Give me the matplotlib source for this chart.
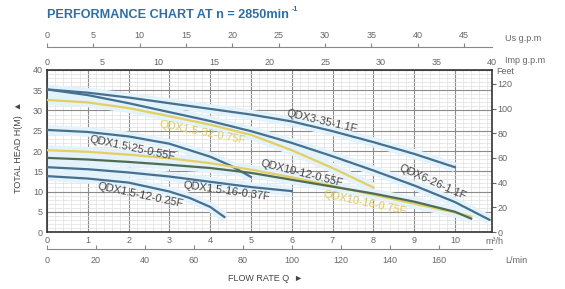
import numpy as np
import matplotlib.pyplot as plt

plt.rcParams['font.family'] = ['Liberation Sans', 'DejaVu Sans']

# pump curves: flow in m3/h, head in m
q_3_35 = [0, 1, 2, 3, 4, 5, 6, 7, 8, 9, 10]
h_3_35 = [35.2, 34.4, 33.2, 31.8, 30.4, 29.0, 27.3, 24.9, 22.2, 19.3, 16.0]

q_6_26 = [0, 1, 2, 3, 4, 5, 6, 7, 8, 9, 10, 10.85]
h_6_26 = [35.2, 33.8, 31.8, 29.6, 27.4, 24.9, 22.0, 18.7, 15.2, 11.5, 7.4, 3.0]

q_15_32 = [0, 1, 2, 3, 4, 5, 6, 7, 8]
h_15_32 = [32.6, 32.0, 30.6, 28.6, 26.5, 24.0, 20.2, 15.8, 11.0]

q_15_25 = [0, 1, 2, 3, 4, 4.5, 5]
h_15_25 = [25.2, 24.7, 23.6, 21.8, 18.6, 16.4, 13.6]

q_10_16 = [0, 1, 2, 3, 4, 5, 6, 7, 8, 9, 10, 10.4]
h_10_16 = [20.2, 19.8, 19.1, 18.2, 17.0, 15.4, 13.5, 11.4, 9.2, 7.0, 4.8, 3.8]

q_10_12 = [0, 1, 2, 3, 4, 5, 6, 7, 8, 9, 10, 10.4]
h_10_12 = [18.3, 17.9, 17.3, 16.6, 15.8, 14.6, 12.9, 11.2, 9.5, 7.5, 5.0, 3.3]

q_15_16 = [0, 1, 2, 3, 4, 5, 6]
h_15_16 = [16.0, 15.5, 14.7, 13.7, 12.4, 11.1, 10.1]

q_15_12 = [0, 1, 2, 3, 3.5, 4, 4.35]
h_15_12 = [13.8, 13.2, 12.2, 10.0, 8.4, 6.2, 3.7]

curves = [
    (q_3_35, h_3_35, '#45708f'),
    (q_6_26, h_6_26, '#45708f'),
    (q_15_32, h_15_32, '#e3cf62'),
    (q_15_25, h_15_25, '#45708f'),
    (q_10_16, h_10_16, '#e3cf62'),
    (q_10_12, h_10_12, '#506c55'),
    (q_15_16, h_15_16, '#45708f'),
    (q_15_12, h_15_12, '#45708f'),
]

# label text, position (m3/h, m), rotation, colour
labels = [
    ("QDX3-35-1.1F", 6.75, 27.3, -13, '#444444'),
    ("QDX6-26-1.1F", 9.45, 12.4, -24, '#444444'),
    ("QDX1.5-32-0.75F", 3.8, 24.6, -11, '#e0c95a'),
    ("QDX1.5-25-0.55F", 2.1, 20.7, -12, '#444444'),
    ("QDX10-12-0.55F", 6.25, 14.6, -14, '#444444'),
    ("QDX10-16-0.75F", 7.8, 7.2, -12, '#e0c95a'),
    ("QDX1.5-16-0.37F", 4.4, 10.2, -8, '#444444'),
    ("QDX1.5-12-0.25F", 2.3, 9.1, -12, '#444444'),
]

fig = plt.figure(figsize=(5.65, 2.89), dpi=100)
ax = fig.add_axes([0.0832, 0.1972, 0.7876, 0.5606])

qmax = 40 * 4.54609 * 60 / 1000  # 40 imp gpm in m3/h
ax.set_xlim(0, qmax)
ax.set_ylim(0, 40)

ax.set_xticks(np.arange(0, 11, 1))
ax.set_xticks(np.arange(0, qmax, 0.2), minor=True)
ax.set_yticks(np.arange(0, 41, 5))
ax.set_yticks(np.arange(0, 41, 1), minor=True)
ax.grid(which='major', color='#8a8a8a', linewidth=0.8)
ax.grid(which='minor', color='#e0e0e0', linewidth=0.5)
ax.set_axisbelow(True)
ax.tick_params(which='both', length=0, labelsize=6.5, labelcolor='#666666', pad=3)
for s in ax.spines.values():
    s.set_color('#333333')
    s.set_linewidth(1.2)

for q, h, c in curves:
    ax.plot(q, h, color='#e3f2fb', linewidth=7, solid_capstyle='butt', zorder=2)
for q, h, c in curves:
    ax.plot(q, h, color=c, linewidth=1.6, zorder=3)

for txt, x, y, rot, c in labels:
    ax.text(x, y, txt, rotation=rot, color=c, fontsize=8, ha='center', va='center',
            rotation_mode='anchor', zorder=4)

# right axis in feet
ft = ax.secondary_yaxis('right', functions=(lambda m: m * 3.28084, lambda f: f / 3.28084))
ft.set_yticks(np.arange(0, 121, 20))
ft.tick_params(labelsize=6.5, labelcolor='#666666', color='#666666', length=3, pad=1)
ft.spines['right'].set_visible(False)

# top axis imp gpm
imp = ax.secondary_xaxis('top', functions=(lambda q: q * 1000 / 60 / 4.54609,
                                           lambda g: g * 4.54609 * 60 / 1000))
imp.set_xticks(np.arange(0, 41, 5))
imp.tick_params(labelsize=6.5, labelcolor='#666666', length=0, pad=2)
imp.spines['top'].set_visible(False)

# us gpm axis above
us = ax.secondary_xaxis(1.142, functions=(lambda q: q * 1000 / 60 / 3.78541,
                                          lambda g: g * 3.78541 * 60 / 1000))
us.set_xticks(np.arange(0, 46, 5))
us.tick_params(labelsize=6.5, labelcolor='#666666', color='#888888', length=3, pad=2)
us.spines['top'].set_color('#888888')

# l/min axis below
lmin = ax.secondary_xaxis(-0.105, functions=(lambda q: q * 1000 / 60,
                                             lambda l: l * 60 / 1000))
lmin.set_xticks(np.arange(0, 161, 20))
lmin.tick_params(labelsize=6.5, labelcolor='#666666', color='#888888', length=3,
                 direction='in', pad=5)
lmin.spines['bottom'].set_color('#888888')

fig.text(0.083, 0.948, "PERFORMANCE CHART AT n = 2850min", fontsize=9.1, fontweight='bold',
         color='#2e6ea6', va='center')
fig.text(0.516, 0.966, "-1", fontsize=5, fontweight='bold', color='#2e6ea6', va='center')

fig.text(0.894, 0.868, "Us g.p.m", fontsize=6.5, color='#666666', va='center')
fig.text(0.894, 0.792, "Imp g.p.m", fontsize=6.5, color='#666666', va='center')
fig.text(0.879, 0.754, "Feet", fontsize=6.5, color='#666666', va='center')
fig.text(0.86, 0.166, "m\u00b3/h", fontsize=6.5, color='#666666', va='center')
fig.text(0.894, 0.10, "L/min", fontsize=6.5, color='#666666', va='center')

fig.text(0.032, 0.49, "TOTAL HEAD H(M)  \u25b2", rotation=90, fontsize=6.5, color='#444444',
         ha='center', va='center')
fig.text(0.47, 0.038, "FLOW RATE Q  \u25ba", fontsize=6.5, color='#444444',
         ha='center', va='center')

fig.savefig('out.png', dpi=100)
